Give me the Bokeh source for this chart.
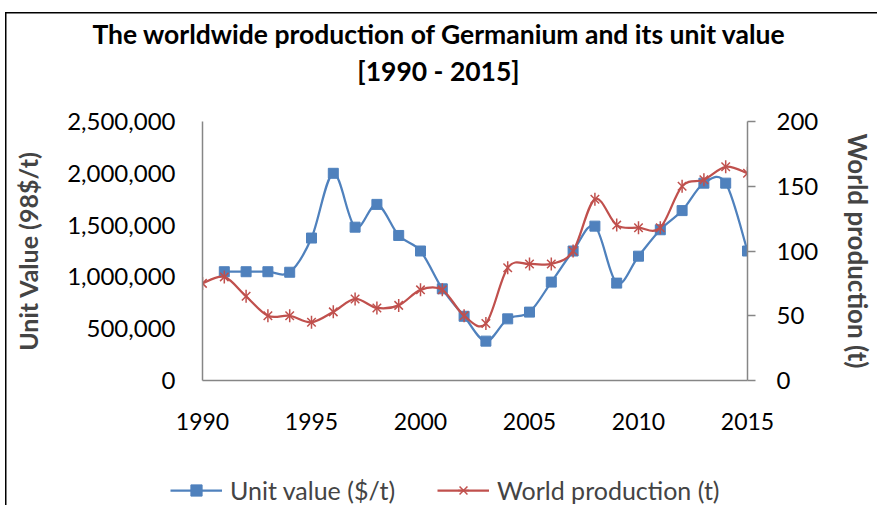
import numpy as np
from bokeh.plotting import figure
from bokeh.layouts import column
from bokeh.models import (Range1d, LinearAxis, FixedTicker, NumeralTickFormatter,
                          Legend, LegendItem, Div)
from bokeh.embed import file_html
from bokeh.resources import INLINE

# ---- data ----
years_value = list(range(1991, 2016))
unit_value = [1050000, 1050000, 1050000, 1045000, 1375000, 2000000, 1480000, 1700000,
              1400000, 1250000, 885000, 620000, 380000, 595000, 660000, 950000,
              1250000, 1490000, 940000, 1200000, 1455000, 1640000, 1905000, 1905000,
              1250000]
years_prod = list(range(1990, 2016))
production = [75, 80, 65, 50, 50, 45, 53, 63, 56, 58, 70, 70, 50, 44, 87, 90, 90, 100,
              140, 120, 118, 118, 150, 155, 165, 160]

x_ticks = [1990, 1995, 2000, 2005, 2010, 2015]
left_ticks = [0, 500000, 1000000, 1500000, 2000000, 2500000]
right_ticks = [0, 50, 100, 150, 200]

title_line1 = "The worldwide production of Germanium and its unit value"
title_line2 = "[1990 - 2015]"
left_label = "Unit Value (98$/t)"
right_label = "World production (t)"
name_value = "Unit value ($/t)"
name_prod = "World production (t)"

BLUE = "#4F81BD"
RED = "#C0504D"
AXIS_GREY = "#868686"
FONT = "Lato"
W = 877


def smooth_segments(xs, ys):
    """Catmull-Rom style bezier segments through the data points (Excel smoothing)."""
    xs = np.asarray(xs, dtype=float)
    ys = np.asarray(ys, dtype=float)
    n = len(xs)
    d = dict(x0=[], y0=[], x1=[], y1=[], cx0=[], cy0=[], cx1=[], cy1=[])
    for i in range(n - 1):
        ip = max(i - 1, 0)
        inn = min(i + 2, n - 1)
        d["x0"].append(xs[i]); d["y0"].append(ys[i])
        d["x1"].append(xs[i + 1]); d["y1"].append(ys[i + 1])
        d["cx0"].append(xs[i] + (xs[i + 1] - xs[ip]) / 6.0)
        d["cy0"].append(ys[i] + (ys[i + 1] - ys[ip]) / 6.0)
        d["cx1"].append(xs[i + 1] - (xs[inn] - xs[i]) / 6.0)
        d["cy1"].append(ys[i + 1] - (ys[inn] - ys[i]) / 6.0)
    return d


def bare(fig):
    fig.outline_line_color = None
    fig.background_fill_color = None
    fig.border_fill_color = None
    fig.xgrid.visible = False
    fig.ygrid.visible = False


# ---------------- title ----------------
title_div = Div(
    text=(f'<div style="font-family: Lato; font-weight: 700; font-size: 26.5px; '
          f'line-height: 37px; text-align: center; padding-top: 16px; padding-left: 9px; '
          f'color: black; width: 868px;">{title_line1}<br>{title_line2}</div>'),
    width=W, height=100, margin=0)

# ---------------- main chart ----------------
p = figure(width=W, height=360, output_backend="svg", toolbar_location=None,
           x_range=Range1d(1990, 2015), y_range=Range1d(0, 2500000),
           min_border_left=202, min_border_right=125, min_border_top=21,
           min_border_bottom=80, margin=0)
p.title = None
bare(p)
p.extra_y_ranges = {"right": Range1d(0, 200)}

xa = p.xaxis[0]
xa.ticker = FixedTicker(ticks=x_ticks)
xa.major_tick_line_color = None
xa.minor_tick_line_color = None
xa.axis_line_color = AXIS_GREY
xa.axis_line_width = 1.5
xa.major_label_standoff = 26
xa.major_label_text_font = FONT
xa.major_label_text_font_size = "23px"
xa.major_label_text_color = "black"

ya = p.yaxis[0]
ya.ticker = FixedTicker(ticks=left_ticks)
ya.formatter = NumeralTickFormatter(format="0,0")
ya.major_tick_line_color = None
ya.minor_tick_line_color = None
ya.axis_line_color = AXIS_GREY
ya.axis_line_width = 1.5
ya.major_label_standoff = 21
ya.major_label_text_font = FONT
ya.major_label_text_font_size = "24px"
ya.major_label_text_color = "black"
ya.axis_label = left_label
ya.axis_label_text_font = FONT
ya.axis_label_text_font_style = "bold"
ya.axis_label_text_font_size = "25px"
ya.axis_label_standoff = 21

ra = LinearAxis(y_range_name="right", ticker=FixedTicker(ticks=right_ticks))
ra.major_tick_in = 0
ra.major_tick_out = 8
ra.major_tick_line_color = AXIS_GREY
ra.major_tick_line_width = 1.5
ra.minor_tick_line_color = None
ra.axis_line_color = AXIS_GREY
ra.axis_line_width = 1.5
ra.major_label_standoff = 21
ra.major_label_text_font = FONT
ra.major_label_text_font_size = "24px"
ra.major_label_text_color = "black"
ra.axis_label = right_label
ra.axis_label_text_font = FONT
ra.axis_label_text_font_style = "bold"
ra.axis_label_text_font_size = "26px"
ra.axis_label_standoff = 21
p.add_layout(ra, "right")

seg_v = smooth_segments(years_value, unit_value)
p.bezier(source=seg_v, x0="x0", y0="y0", x1="x1", y1="y1", cx0="cx0", cy0="cy0",
         cx1="cx1", cy1="cy1", line_color=BLUE, line_width=2.25)
p.scatter(years_value, unit_value, marker="square", size=10, fill_color=BLUE,
          line_color=BLUE)

seg_p = smooth_segments(years_prod, production)
p.bezier(source=seg_p, x0="x0", y0="y0", x1="x1", y1="y1", cx0="cx0", cy0="cy0",
         cx1="cx1", cy1="cy1", line_color=RED, line_width=2.25, y_range_name="right")
p.scatter(years_prod, production, marker="x", size=12, line_color=RED,
          line_width=1.5, y_range_name="right")
p.scatter(years_prod, production, marker="dash", angle=np.pi / 2, size=13,
          line_color=RED, line_width=1.5, y_range_name="right")

# ---------------- legend strip (separate root: no frame alignment) ----------------
fl = figure(width=W, height=45, output_backend="svg", toolbar_location=None,
            x_range=Range1d(0, 1), y_range=Range1d(0, 1),
            x_axis_location=None, y_axis_location=None,
            min_border_left=0, min_border_right=0, min_border_top=0, min_border_bottom=0,
            margin=0)
fl.title = None
bare(fl)
lv = fl.line(years_value, unit_value, line_color=BLUE, line_width=2.25, visible=False)
mv = fl.scatter(years_value, unit_value, marker="square", fill_color=BLUE,
                line_color=BLUE, visible=False)
lp = fl.line(years_prod, production, line_color=RED, line_width=2.25, visible=False)
mx = fl.scatter(years_prod, production, marker="x", line_color=RED, line_width=1.5,
                visible=False)
md = fl.scatter(years_prod, production, marker="dash", angle=np.pi / 2,
                line_color=RED, line_width=1.5, visible=False)

legend = Legend(items=[LegendItem(label=name_value, renderers=[lv, mv]),
                       LegendItem(label=name_prod, renderers=[lp, mx, md])],
                orientation="horizontal", location=(170, 0),
                label_text_font=FONT, label_text_font_size="25px",
                glyph_width=52, glyph_height=28, label_height=28, label_standoff=8,
                spacing=42, padding=0, margin=0, border_line_color=None,
                background_fill_alpha=0, inactive_fill_alpha=0)
fl.add_layout(legend, "center")
fl.styles = {
    "background-color": "white",
    "background-image": "linear-gradient(#000,#000)",
    "background-size": "1.5px 100%",
    "background-position": "5px 0px",
    "background-repeat": "no-repeat",
}

top = column(title_div, p, spacing=0, margin=0, styles={
    "background-color": "white",
    "background-image": "linear-gradient(#000,#000), linear-gradient(#000,#000)",
    "background-size": "1.5px 100%, 100% 1.5px",
    "background-position": "5px 12px, 5px 12px",
    "background-repeat": "no-repeat",
})

open("out.html", "w").write(file_html([top, fl], INLINE))
